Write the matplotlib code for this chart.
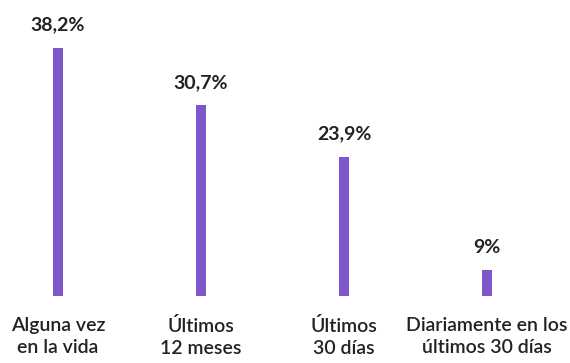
import matplotlib.pyplot as plt

plt.rcParams['font.family'] = ['Lato', 'DejaVu Sans']

categorias = ['Alguna vez\nen la vida', 'Últimos\n12 meses', 'Últimos\n30 días',
              'Diariamente en los\núltimos 30 días']
valores = [38.2, 30.7, 23.9, 9]
etiquetas = ['38,2%', '30,7%', '23,9%', '9%']

fig = plt.figure(figsize=(5.7, 3.63), dpi=100)
ax = fig.add_axes([0, 67 / 363, 1, 296 / 363])

x = range(len(valores))
ax.bar(x, valores, width=0.074, color='#7f56c9')

# eje y recortado, como en el original
ax.set_ylim(5.6, 5.6 + 296 / 7.62)
ax.set_xlim(-58 / 143, (570 - 58) / 143)

for xi, v, t in zip(x, valores, etiquetas):
    ax.annotate(t, (xi, v), xytext=(0, 10), textcoords='offset points',
                ha='center', va='bottom', fontsize=14, fontweight='bold',
                color='#222222')

ax.set_xticks(list(x))
ax.set_xticklabels(categorias, fontsize=14, fontweight='semibold',
                   color='#222222', linespacing=1.35)
ax.tick_params(axis='x', length=0, pad=15)
ax.set_yticks([])
for s in ax.spines.values():
    s.set_visible(False)

fig.savefig('out.png', dpi=100)
